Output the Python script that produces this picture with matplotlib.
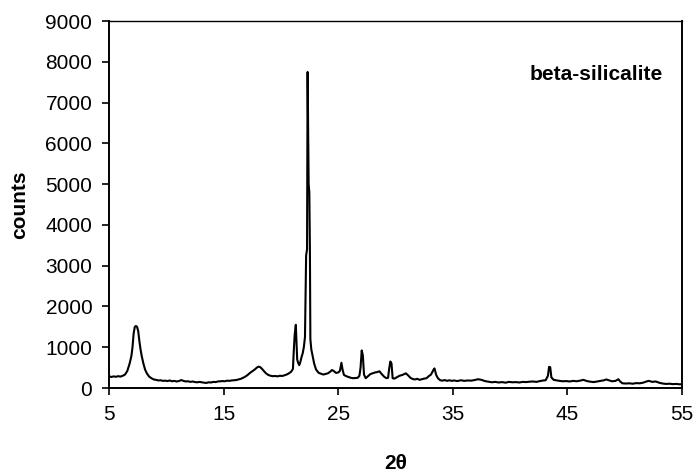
import matplotlib
matplotlib.use("Agg")
import matplotlib.pyplot as plt

plt.rcParams['font.family'] = ['Liberation Sans', 'DejaVu Sans']

# XRD pattern
two_theta = [
    5.0, 5.2, 5.4, 5.6, 5.8, 6.0, 6.2, 6.4, 6.6, 6.8, 6.95, 7.05, 7.15, 7.25, 7.35,
    7.45, 7.55, 7.65, 7.75, 7.85, 8.0, 8.15, 8.3, 8.5, 8.7, 8.9, 9.1, 9.3, 9.5, 9.7,
    9.9, 10.1, 10.3, 10.5, 10.7, 10.9, 11.1, 11.3, 11.5, 11.7, 11.9, 12.1, 12.3, 12.5,
    12.7, 12.9, 13.1, 13.3, 13.5, 13.7, 13.9, 14.1, 14.3, 14.5, 14.7, 14.9, 15.1, 15.3,
    15.5, 15.7, 15.9, 16.1, 16.3, 16.5, 16.7, 16.9, 17.1, 17.3, 17.5, 17.7, 17.9, 18.05,
    18.2, 18.35, 18.5, 18.7, 18.9, 19.1, 19.3, 19.5, 19.7, 19.9, 20.1, 20.3, 20.5, 20.7,
    20.9, 21.05, 21.12, 21.2, 21.3, 21.36, 21.42, 21.5, 21.6, 21.7, 21.8, 21.9, 22.0,
    22.1, 22.15, 22.2, 22.28, 22.33, 22.42, 22.48, 22.53, 22.57, 22.65, 22.77, 22.9,
    23.07, 23.3, 23.5, 23.7, 23.9, 24.1, 24.3, 24.45, 24.6, 24.8, 25.0, 25.15, 25.28,
    25.38, 25.5, 25.7, 25.9, 26.1, 26.3, 26.5, 26.7, 26.85, 26.95, 27.05, 27.15, 27.25,
    27.4, 27.6, 27.8, 28.0, 28.2, 28.4, 28.6, 28.8, 29.0, 29.2, 29.35, 29.45, 29.55,
    29.65, 29.75, 29.9, 30.1, 30.35, 30.6, 30.9, 31.1, 31.3, 31.5, 31.7, 31.9, 32.1,
    32.3, 32.5, 32.7, 32.9, 33.1, 33.3, 33.4, 33.55, 33.7, 33.9, 34.1, 34.3, 34.5, 34.7,
    34.9, 35.1, 35.4, 35.7, 36.0, 36.3, 36.6, 36.9, 37.2, 37.5, 37.8, 38.1, 38.4, 38.7,
    39.0, 39.3, 39.6, 39.9, 40.2, 40.5, 40.8, 41.1, 41.4, 41.7, 42.0, 42.3, 42.6, 42.9,
    43.1, 43.3, 43.4, 43.5, 43.6, 43.8, 44.0, 44.3, 44.6, 44.9, 45.2, 45.5, 45.8, 46.1,
    46.4, 46.7, 47.0, 47.3, 47.6, 47.9, 48.2, 48.4, 48.6, 48.9, 49.2, 49.45, 49.6, 49.8,
    50.1, 50.4, 50.7, 51.0, 51.3, 51.6, 51.9, 52.1, 52.4, 52.7, 53.0, 53.3, 53.6, 53.9,
    54.2, 54.5, 54.8, 55.0,
]
counts = [
    290, 270, 285, 275, 290, 280, 300, 330, 420, 600, 780, 1000, 1340, 1500, 1520,
    1500, 1390, 1150, 950, 790, 600, 450, 360, 280, 240, 210, 200, 185, 190, 175,
    180, 170, 185, 165, 175, 160, 170, 195, 175, 160, 165, 150, 160, 145,
    140, 150, 140, 130, 125, 140, 135, 150, 145, 160, 165, 170, 165, 180,
    175, 185, 190, 195, 210, 225, 250, 280, 320, 370, 410, 450, 500, 525,
    510, 470, 420, 360, 320, 300, 290, 295, 285, 300, 295, 310, 330, 360,
    400, 470, 900, 1300, 1550, 1100, 700, 620, 560, 640, 760, 850, 1000,
    1250, 2200, 3250, 3400, 7750, 5000, 4800, 3400, 1200, 950, 780, 600,
    450, 370, 350, 330, 345, 360, 400, 440, 420, 370, 380, 420, 620,
    450, 320, 290, 270, 250, 240, 245, 250, 300, 500, 920, 800, 330,
    240, 290, 340, 360, 380, 390, 410, 340, 280, 240, 250, 480, 650,
    600, 240, 230, 260, 300, 320, 360, 310, 250, 220, 210, 225, 200,
    215, 230, 240, 290, 330, 440, 480, 320, 240, 190, 180, 195, 175, 190,
    175, 185, 170, 190, 175, 185, 180, 195, 215, 200, 170, 155, 140, 150,
    135, 145, 130, 150, 140, 145, 135, 150, 145, 155, 160, 150, 170, 185,
    190, 300, 520, 510, 260, 200, 190, 175, 165, 170, 160, 175, 165, 180,
    200, 170, 155, 145, 160, 175, 190, 210, 190, 165, 175, 215, 160, 115,
    110, 115, 105, 120, 115, 130, 160, 175, 150, 160, 130, 110, 100, 105,
    95, 100, 90, 95,
]

x_ticks = [5, 15, 25, 35, 45, 55]
y_ticks = [0, 1000, 2000, 3000, 4000, 5000, 6000, 7000, 8000, 9000]

fig = plt.figure(figsize=(6.97, 4.73), dpi=100)
ax = fig.add_axes([0.1564, 0.1797, 0.8221, 0.7759])

ax.plot(two_theta, counts, color='black', linewidth=1.5)

ax.set_xlim(5, 55)
ax.set_ylim(0, 9000)
ax.set_xticks(x_ticks)
ax.set_yticks(y_ticks)
ax.tick_params(axis='both', direction='out', length=5, width=1.2,
               labelsize=15, pad=7)

for side in ['left', 'bottom', 'right']:
    ax.spines[side].set_linewidth(1.4)
ax.spines['top'].set_linewidth(1.0)

ax.set_xlabel('2θ', fontsize=15, fontweight='bold', labelpad=22)
ax.set_ylabel('counts', fontsize=15, fontweight='bold', labelpad=12)

ax.text(0.967, 0.853, 'beta-silicalite', transform=ax.transAxes,
        ha='right', va='center', fontsize=15, fontweight='bold')

fig.savefig('out.png', dpi=100)
